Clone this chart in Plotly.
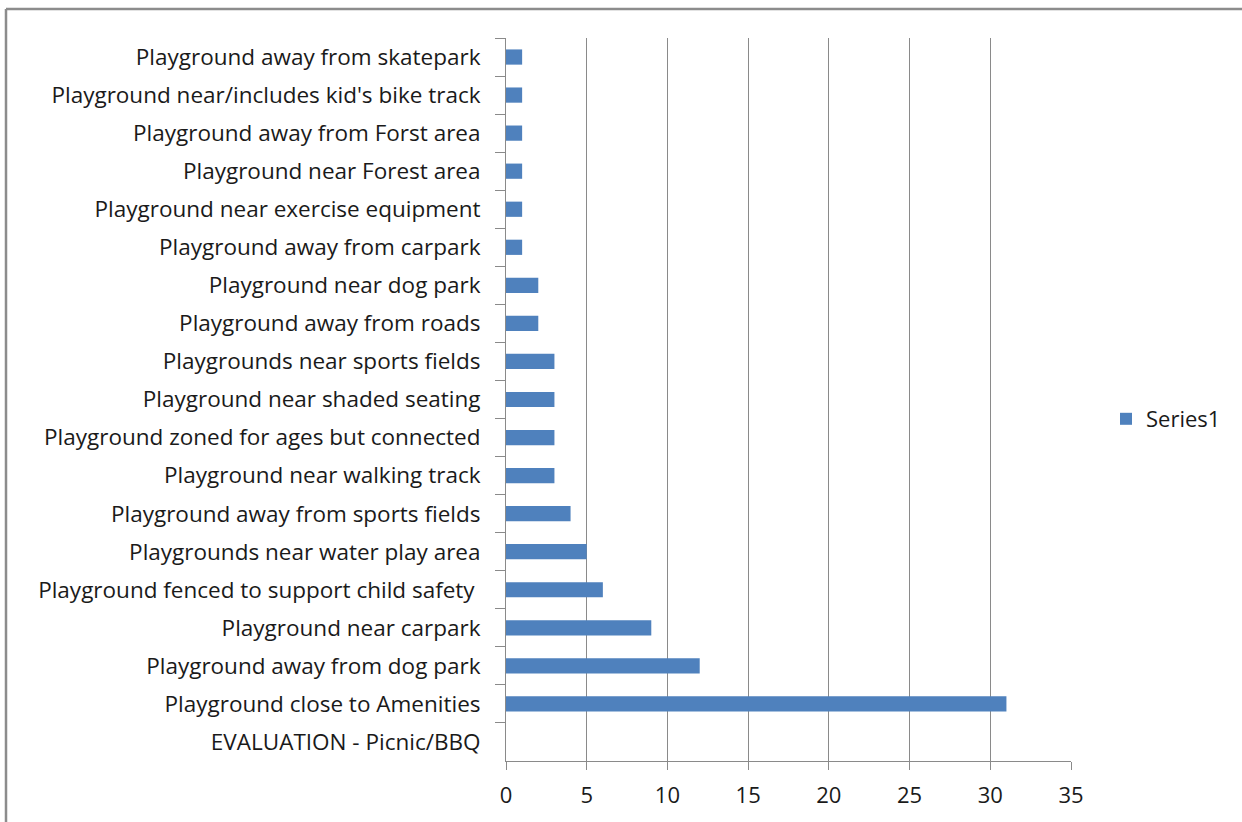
import plotly.graph_objects as go

categories = [
    "Playground away from skatepark",
    "Playground near/includes kid's bike track",
    "Playground away from Forst area",
    "Playground near Forest area",
    "Playground near exercise equipment",
    "Playground away from carpark",
    "Playground near dog park",
    "Playground away from roads",
    "Playgrounds near sports fields",
    "Playground near shaded seating",
    "Playground zoned for ages but connected",
    "Playground near walking track",
    "Playground away from sports fields",
    "Playgrounds near water play area",
    "Playground fenced to support child safety\u00a0",
    "Playground near carpark",
    "Playground away from dog park",
    "Playground close to Amenities",
    "EVALUATION - Picnic/BBQ",
]
values = [1, 1, 1, 1, 1, 1, 2, 2, 3, 3, 3, 3, 4, 5, 6, 9, 12, 31, 0]
x_ticks = [0, 5, 10, 15, 20, 25, 30, 35]
series_name = "Series1"

W, H = 1242, 822
L, R, T, B = 506, 171, 38, 61
pw = W - L - R
ph = H - T - B

fig = go.Figure()
fig.add_trace(go.Bar(
    x=values, y=categories, orientation="h", name=series_name,
    marker=dict(color="#4F81BD", line=dict(width=0)), width=0.4,
    showlegend=True,
))

font = dict(family="Open Sans, Noto Sans, sans-serif", size=22.5, color="#1a1a1a")
grid = "#8a8a8a"

fig.update_layout(
    width=W, height=H,
    margin=dict(l=L, r=R, t=T, b=B, autoexpand=False),
    paper_bgcolor="white", plot_bgcolor="white",
    font=font,
    showlegend=True,
    legend=dict(x=(1106 - L) / pw, y=(H - B - 419) / ph, xanchor="left", yanchor="middle",
                font=dict(size=22), itemwidth=30, bgcolor="rgba(0,0,0,0)"),
    xaxis=dict(range=[0, 35], tickvals=x_ticks, showgrid=True, gridcolor=grid, gridwidth=1,
               showline=True, linecolor=grid, linewidth=1, ticks="outside", ticklen=8,
               tickcolor=grid, zeroline=False, ticklabelstandoff=7, fixedrange=True,
               tickfont=dict(size=22)),
    yaxis=dict(type="category", autorange="reversed", showgrid=False, showline=True,
               linecolor=grid, linewidth=1, ticks="outside", ticklen=10, tickcolor=grid,
               tickson="boundaries", ticklabelstandoff=20, zeroline=False),
)

# outer chart border (visible top and left edges)
bx = (6 - L) / pw
by = (H - B - 9) / ph
fig.add_shape(type="line", xref="paper", yref="paper", x0=bx, y0=by, x1=2, y1=by,
              line=dict(color="#8c8c8c", width=2.5))
fig.add_shape(type="line", xref="paper", yref="paper", x0=bx, y0=by, x1=bx, y1=-1,
              line=dict(color="#8c8c8c", width=2.5))

fig.write_html("out.html", config={"displayModeBar": False},
               post_script="document.body.style.margin='0px';")
